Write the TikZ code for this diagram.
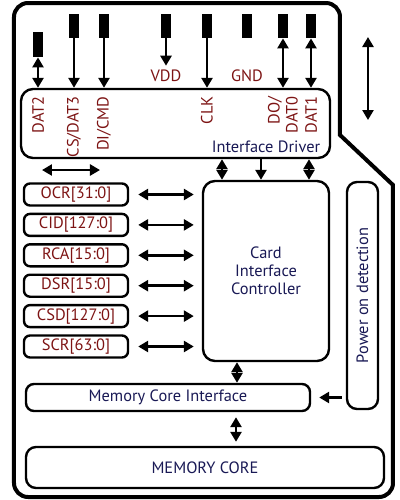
\documentclass[tikz,border=0pt]{standalone}
\usepackage{fontspec}
\setmainfont{PT Sans}
\usetikzlibrary{arrows.meta}
\usetikzlibrary{positioning}
\definecolor{sigred}{RGB}{125,20,20}
\definecolor{blockblue}{RGB}{25,25,85}
\begin{document}
\begin{tikzpicture}[x=0.5pt, y=-0.5pt,
		every node/.style={font=\fontsize{8.2}{9}\selectfont, inner sep=0pt},
		box/.style={draw, line width=1.2pt, rounded corners=#1},
		cardpin/.style={fill=black, minimum width=5pt, minimum height=12pt},
		sig/.style={text=sigred},
		blk/.style={text=blockblue},
		arr/.style={line width=1.3pt, -{Triangle[length=5pt,width=5.5pt]}},
		darr/.style={line width=1.3pt, {Triangle[length=5pt,width=5.5pt]}-{Triangle[length=5pt,width=5.5pt]}}]
		\useasboundingbox (0,0) rectangle (400,500);
		% card outline
		\draw[line width=2pt] (14,250) [rounded corners=7pt] -- (14,3) -- (340,3) -- (340,60) [sharp corners] -- (340,135) -- (393,185) -- (393,300) [rounded corners=7pt] -- (393,497) -- (14,497) -- cycle;
		% contacts
		\node[cardpin, minimum height=12.5pt] (p-dat2) at (38,44.5) {};
		\node[cardpin] (p-cs) at (74,26) {};
		\node[cardpin] (p-di) at (104,26) {};
		\node[cardpin] (p-vdd) at (166,26) {};
		\node[cardpin] (p-clk) at (207,26) {};
		\node[cardpin] (p-gnd) at (247,26) {};
		\node[cardpin] (p-do) at (283,26) {};
		\node[cardpin] (p-dat1) at (311,26) {};
		\node[sig] (vdd) at (166,76) {VDD};
		\node[sig] (gnd) at (247,76) {GND};
		% interface driver
		\node[box=6pt, minimum width=154.5pt, minimum height=34.5pt] (drv) at (175.5,123.5) {};
		\node[blk] (drv-lbl) at (266,147) {Interface Driver};
		\node[sig, rotate=90, anchor=east] (l-dat2) at (38,96) {DAT2};
		\node[sig, rotate=90, anchor=east] (l-cs) at (74,96) {CS/DAT3};
		\node[sig, rotate=90, anchor=east] (l-di) at (104,96) {DI/CMD};
		\node[sig, rotate=90, anchor=east] (l-clk) at (207,96) {CLK};
		\node[sig, rotate=90, anchor=east, align=right] (l-do) at (283,96) {DO/\\DAT0};
		\node[sig, rotate=90, anchor=east] (l-dat1) at (311,96) {DAT1};
		\draw[darr] (p-dat2.south) -- (p-dat2.south |- drv.north);
		\draw[arr] (p-cs.south) -- (p-cs.south |- drv.north);
		\draw[arr] (p-di.south) -- (p-di.south |- drv.north);
		\draw[arr, shorten >=2pt] (p-vdd.south) -- (vdd.north);
		\draw[arr] (p-clk.south) -- (p-clk.south |- drv.north);
		\draw[darr] (p-do.south) -- (p-do.south |- drv.north);
		\draw[darr] (p-dat1.south) -- (p-dat1.south |- drv.north);
		\coordinate (r-top) at (368,37);
		\coordinate (r-bot) at (368,120);
		\draw[darr] (r-top) -- (r-bot);
		% card interface controller
		\node[box=6pt, blk, minimum width=63pt, minimum height=90pt, align=center] (ctrl) at (266,271) {Card\\Interface\\Controller};
		\draw[darr] (222,0 |- drv.south) -- (222,0 |- ctrl.north);
		\draw[arr] (261,0 |- drv.south) -- (261,0 |- ctrl.north);
		\draw[darr] (309,0 |- drv.south) -- (309,0 |- ctrl.north);
		% registers
		\coordinate (h-left) at (42,170);
		\coordinate (h-right) at (100,170);
		\draw[darr] (h-left) -- (h-right);
		\foreach \r [count=\i from 0] in {OCR[31:0], CID[127:0], RCA[15:0], DSR[15:0], CSD[127:0], SCR[63:0]} {
			\node[box=3pt, sig, minimum width=52pt, minimum height=11pt] (reg\i) at (76,{194.5+30.4*\i}) {\r};
			\draw[darr, shorten <=4.5pt, shorten >=4pt] (reg\i.east) -- (reg\i.east -| ctrl.west);
		}
		% power detection and memory
		\node[box=5pt, blk, rotate=90, minimum width=113.5pt, minimum height=15.5pt] (pwr) at (362.5,295.5) {Power on detection};
		\node[box=4pt, blk, minimum width=142pt, minimum height=13.5pt] (mci) at (168,397.5) {Memory Core Interface};
		\node[box=5pt, blk, minimum width=179pt, minimum height=20.5pt] (core) at (205,467.5) {MEMORY CORE};
		\draw[darr] (237,0 |- ctrl.south) -- (237,0 |- mci.north);
		\draw[darr, shorten <=2.5pt, shorten >=2pt] (236,0 |- mci.south) -- (236,0 |- core.north);
		\draw[arr, shorten <=2pt, shorten >=4pt] (pwr.north |- mci.east) -- (mci.east);
	\end{tikzpicture}
\end{document}
